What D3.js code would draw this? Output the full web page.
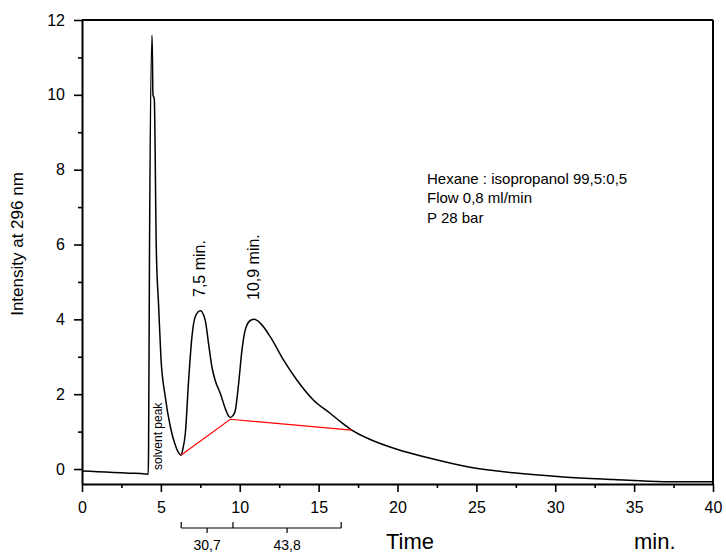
<!DOCTYPE html>
<html>
<head>
<meta charset="utf-8">
<script src="https://cdn.jsdelivr.net/npm/d3@7"></script>
<style>
  body { margin: 0; background: #fff; }
  text { font-family: "Liberation Sans", Arial, sans-serif; }
</style>
</head>
<body>
<div id="chart"></div>
<script>
// Chromatogram trace (time in min, intensity)
const timeMin = [0, 1, 2, 3, 4, 4.2, 4.22, 4.28, 4.44, 4.5, 4.58, 4.71, 4.86, 5.0, 5.28, 5.6, 5.91, 6.1, 6.27,
    6.4, 6.55, 6.76, 6.97, 7.18, 7.5, 7.81, 8.02, 8.24, 8.45, 8.77, 9.08, 9.25, 9.4, 9.55, 9.71, 9.93, 10.14,
    10.35, 10.67, 10.92, 11.3, 11.93, 12.78, 13.62, 14.68, 15.73, 16.4, 17.1, 18.27, 19.96, 22.07, 24.6, 27.35,
    30.52, 33.7, 36.86, 40];
const intensity = [-0.05, -0.07, -0.09, -0.11, -0.13, -0.14, 0.5, 5.9, 11.6, 10.0, 9.9, 5.9, 4.34, 3.0, 1.93,
    1.13, 0.64, 0.45, 0.37, 0.55, 0.95, 2.38, 3.54, 4.07, 4.23, 3.98, 3.36, 2.72, 2.36, 2.02, 1.62, 1.45, 1.38,
    1.42, 1.55, 2.29, 3.18, 3.72, 3.97, 4.0, 3.9, 3.54, 2.91, 2.38, 1.84, 1.49, 1.26, 1.04, 0.79, 0.53, 0.29, 0.05,
    -0.1, -0.21, -0.28, -0.34, -0.34];

// integration baseline (red)
const baseTime = [6.27, 9.4, 17.1];
const baseValue = [0.37, 1.33, 1.04];

// integration brackets below the axis
const bracketTimes = [6.29, 9.57, 16.43];
const bracketLabels = ["30,7", "43,8"];

// peak labels
const peakTimes = [7.5, 10.9];
const peakLabels = ["7,5 min.", "10,9 min."];

const xTicks = [0, 5, 10, 15, 20, 25, 30, 35, 40];
const xMinor = [2.5, 7.5, 12.5, 17.5, 22.5, 27.5, 32.5, 37.5];
const yTicks = [0, 2, 4, 6, 8, 10, 12];
const yMinor = [1, 3, 5, 7, 9, 11];

const infoLines = ["Hexane : isopropanol 99,5:0,5", "Flow 0,8 ml/min", "P 28 bar"];

// Set up the dimensions
const margin = { top: 20, right: 13, bottom: 70, left: 82 };
const width = 726 - margin.left - margin.right;
const height = 554 - margin.top - margin.bottom;

const svg = d3.select("#chart")
    .append("svg")
    .attr("width", 726)
    .attr("height", 554)
    .append("g")
    .attr("transform", `translate(${margin.left},${margin.top})`);

const x = d3.scaleLinear().domain([0, 40]).range([0, width]);
const y = d3.scaleLinear().domain([-0.4, 12]).range([height, 0]);

// minor ticks
svg.append("g")
    .attr("transform", `translate(0,${height})`)
    .call(d3.axisBottom(x).tickValues(xMinor).tickSize(4).tickSizeOuter(0).tickFormat(""))
    .call(g => g.select(".domain").remove())
    .selectAll("line").attr("stroke-width", 1.6);

svg.append("g")
    .call(d3.axisLeft(y).tickValues(yMinor).tickSize(4).tickSizeOuter(0).tickFormat(""))
    .call(g => g.select(".domain").remove())
    .selectAll("line").attr("stroke-width", 1.6);

// major axes
const xAxis = svg.append("g")
    .attr("transform", `translate(0,${height})`)
    .call(d3.axisBottom(x).tickValues(xTicks).tickSize(8).tickSizeOuter(0).tickPadding(10));

const yAxis = svg.append("g")
    .call(d3.axisLeft(y).tickValues(yTicks).tickSize(8).tickSizeOuter(0).tickPadding(9));

[xAxis, yAxis].forEach(a => {
    a.selectAll("text").style("font-size", "16px").attr("fill", "#000");
    a.selectAll("line").attr("stroke-width", 1.6);
    a.select(".domain").attr("stroke-width", 2);
});

// frame top / right
svg.append("line").attr("x1", 0).attr("x2", width).attr("y1", 0).attr("y2", 0)
    .attr("stroke", "#000").attr("stroke-width", 2);
svg.append("line").attr("x1", width).attr("x2", width).attr("y1", 0).attr("y2", height)
    .attr("stroke", "#000").attr("stroke-width", 2);

// trace
const pts = timeMin.map((t, i) => [t, intensity[i]]);
svg.append("path")
    .datum(pts)
    .attr("fill", "none")
    .attr("stroke", "#000")
    .attr("stroke-width", 1.5)
    .attr("d", d3.line().x(d => x(d[0])).y(d => y(d[1])).curve(d3.curveMonotoneX));

// red baseline
svg.append("path")
    .datum(baseTime.map((t, i) => [t, baseValue[i]]))
    .attr("fill", "none")
    .attr("stroke", "#ff0000")
    .attr("stroke-width", 1.2)
    .attr("d", d3.line().x(d => x(d[0])).y(d => y(d[1])));

// peak labels
peakLabels.forEach((lab, i) => {
    svg.append("text")
        .attr("transform", `translate(${x(peakTimes[i]) + 5},${[277, 280][i]}) rotate(-90)`)
        .style("font-size", "16px")
        .text(lab);
});

// solvent peak
svg.append("text")
    .attr("transform", `translate(${x(4.22) + 13},${y(0) + 1}) rotate(-90)`)
    .style("font-size", "12px")
    .text("solvent peak");

// info text
svg.selectAll(".info")
    .data(infoLines)
    .enter()
    .append("text")
    .attr("class", "info")
    .attr("x", 345)
    .attr("y", (d, i) => 164 + i * 19.3)
    .style("font-size", "15px")
    .text(d => d);

// axis titles
svg.append("text")
    .attr("transform", `translate(${23 - margin.left},${244 - margin.top}) rotate(-90)`)
    .attr("text-anchor", "middle")
    .style("font-size", "17px")
    .text("Intensity at 296 nm");

svg.append("text")
    .attr("x", 386 - margin.left)
    .attr("y", 549 - margin.top)
    .style("font-size", "22px")
    .text("Time");

svg.append("text")
    .attr("x", 634 - margin.left)
    .attr("y", 549 - margin.top)
    .style("font-size", "22px")
    .text("min.");

// integration brackets
const by = 528 - margin.top;
const br = svg.append("g").attr("stroke", "#000").attr("stroke-width", 1.2);
br.append("line")
    .attr("x1", x(bracketTimes[0])).attr("x2", x(bracketTimes[bracketTimes.length - 1]))
    .attr("y1", by).attr("y2", by);
bracketTimes.forEach(t => {
    br.append("line").attr("x1", x(t)).attr("x2", x(t)).attr("y1", by - 6).attr("y2", by);
});
bracketLabels.forEach((lab, i) => {
    const mid = (x(bracketTimes[i]) + x(bracketTimes[i + 1])) / 2;
    br.append("line").attr("x1", mid).attr("x2", mid).attr("y1", by).attr("y2", by + 5);
    svg.append("text")
        .attr("x", mid)
        .attr("y", by + 22)
        .attr("text-anchor", "middle")
        .style("font-size", "14px")
        .text(lab);
});
</script>
</body>
</html>
